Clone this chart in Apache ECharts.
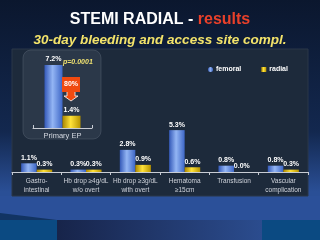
<!DOCTYPE html>
<html><head><meta charset="utf-8">
<script src="https://cdn.jsdelivr.net/npm/echarts@6/dist/echarts.min.js"></script>
<style>html,body{margin:0;padding:0;background:#0b172e}#c{width:320px;height:240px}</style>
</head><body><div id="c"></div>
<script>
const categories = ['Gastro-\nintestinal','Hb drop ≥4g/dL\nw/o overt','Hb drop ≥3g/dL\nwith overt','Hematoma\n≥15cm','Transfusion','Vascular\ncomplication'];
const femoral = [1.1, 0.3, 2.8, 5.3, 0.8, 0.8];
const radial = [0.3, 0.3, 0.9, 0.6, 0.0, 0.3];
const primaryCategories = ['Primary EP'];
const primaryFemoral = [7.2];
const primaryRadial = [1.4];

const G = echarts.graphic;
const blueGrad = new G.LinearGradient(0,0,1,0,[{offset:0,color:'#3459b8'},{offset:0.45,color:'#93b5f4'},{offset:1,color:'#3d66c6'}]);
const yellowGrad = new G.LinearGradient(0,0,1,0,[{offset:0,color:'#a88400'},{offset:0.45,color:'#ffe23a'},{offset:1,color:'#b89400'}]);
const lbl = {show:true,position:'top',distance:2,color:'#ffffff',fontSize:7,fontWeight:'bold',fontFamily:'Liberation Sans, Arial',formatter:p=>p.value.toFixed(1)+'%'};

const chart = echarts.init(document.getElementById('c'));
chart.setOption({
  backgroundColor:'transparent',
  animation:false,
  title:{
    text:'{w|STEMI RADIAL - }{r|results}',
    left:'center', top:7,
    textStyle:{rich:{
      w:{color:'#ffffff',fontSize:16,fontWeight:'bold',fontFamily:'Liberation Sans, Arial'},
      r:{color:'#e8402a',fontSize:16,fontWeight:'bold',fontFamily:'Liberation Sans, Arial'}
    }}
  },
  legend:{
    data:[{name:'femoral',icon:'circle'},{name:'radial',icon:'rect'}],
    left:203, top:61, itemWidth:5, itemHeight:5, itemGap:20,
    textStyle:{color:'#ffffff',fontSize:7,fontWeight:'bold',fontFamily:'Liberation Sans, Arial',padding:[0,0,0,-2]}
  },
  graphic:[
    {type:'rect',z:-10,shape:{x:0,y:0,width:320,height:240},style:{fill:new G.LinearGradient(0,0,0,1,[{offset:0,color:'#0b172e'},{offset:0.55,color:'#13284f'},{offset:0.8,color:'#2a4f96'},{offset:1,color:'#2a4f96'}])}},
    {type:'rect',z:-9,shape:{x:0,y:196,width:320,height:25},style:{fill:'#2b5099'}},
    {type:'polygon',z:-9,shape:{points:[[0,213],[57,220],[0,221]]},style:{fill:'#123463'}},
    {type:'rect',z:-9,shape:{x:0,y:220,width:57,height:20},style:{fill:'#0b4a82'}},
    {type:'rect',z:-9,shape:{x:57,y:220,width:205,height:20},style:{fill:new G.LinearGradient(0,0,1,0,[{offset:0,color:'#17244a'},{offset:1,color:'#2b4c8e'}])}},
    {type:'rect',z:-9,shape:{x:262,y:220,width:58,height:20},style:{fill:'#0b4a82'}},
    {type:'rect',z:-8,shape:{x:12,y:49,width:296,height:147},style:{fill:'#1d2a3b',stroke:'#2a3748',lineWidth:1}},
    {type:'rect',z:-7,shape:{x:23,y:50,width:78,height:89,r:8},style:{fill:'#2b3849',stroke:'#56627280',lineWidth:1}},
    {type:'text',z:100,left:'center',top:33,style:{text:'30-day bleeding and access site compl.',fill:'#f3e36a',font:'italic bold 13.5px "Liberation Sans", Arial'}},
    {type:'text',z:100,x:63,y:59,style:{text:'p=0.0001',fill:'#eee070',font:'italic bold 7px "Liberation Sans", Arial'}},
    {type:'polygon',z:99,shape:{points:[[67,91],[75,91],[75,96],[78,96],[71,101],[64,96],[67,96]]},style:{fill:'#f04a10',stroke:'#ffffff',lineWidth:0.8}},
    {type:'rect',z:100,shape:{x:62,y:77,width:18,height:15},style:{fill:'#f04a10'}},
    {type:'text',z:101,x:71,y:84.5,style:{text:'80%',fill:'#ffffff',font:'bold 7px "Liberation Sans", Arial',align:'center',verticalAlign:'middle'}}
  ],
  grid:[
    {left:12,right:12,top:93,bottom:68},
    {left:33,width:59,top:58,bottom:112}
  ],
  xAxis:[
    {type:'category',gridIndex:0,data:categories,
      axisLine:{lineStyle:{color:'#c8ccd4',width:1}},
      axisTick:{show:true,length:3,lineStyle:{color:'#c8ccd4'}},
      axisLabel:{color:'#cfd3db',fontSize:6.5,lineHeight:9,margin:5,fontFamily:'Liberation Sans, Arial',interval:0}},
    {type:'category',gridIndex:1,data:primaryCategories,
      axisLine:{lineStyle:{color:'#c8ccd4',width:1}},
      axisTick:{show:true,inside:true,length:3,lineStyle:{color:'#c8ccd4'}},
      axisLabel:{color:'#d4d8e0',fontSize:7.5,margin:4,fontFamily:'Liberation Sans, Arial'}}
  ],
  yAxis:[
    {type:'value',gridIndex:0,min:0,max:10,show:false,splitLine:{show:false}},
    {type:'value',gridIndex:1,min:0,max:8,show:false,splitLine:{show:false}}
  ],
  series:[
    {name:'femoral',type:'bar',xAxisIndex:0,yAxisIndex:0,data:femoral,barGap:'0%',barCategoryGap:'37%',itemStyle:{color:blueGrad},label:lbl},
    {name:'radial',type:'bar',xAxisIndex:0,yAxisIndex:0,data:radial,barGap:'0%',barCategoryGap:'37%',itemStyle:{color:yellowGrad},label:lbl},
    {name:'femoral',type:'bar',xAxisIndex:1,yAxisIndex:1,data:primaryFemoral,barGap:'0%',barWidth:18,itemStyle:{color:blueGrad},label:lbl},
    {name:'radial',type:'bar',xAxisIndex:1,yAxisIndex:1,data:primaryRadial,barGap:'0%',barWidth:18,itemStyle:{color:yellowGrad},label:lbl}
  ]
});
</script></body></html>
